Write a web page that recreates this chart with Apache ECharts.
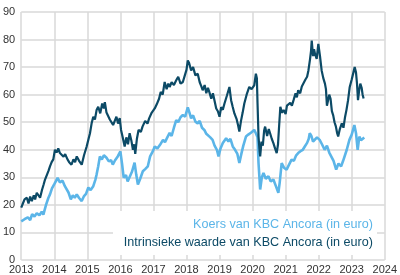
<!DOCTYPE html>
<html><head><meta charset="utf-8">
<script src="https://cdn.jsdelivr.net/npm/echarts@6/dist/echarts.min.js"></script>
<style>html,body{margin:0;padding:0;background:#fff}#c{width:400px;height:275px}</style>
</head><body><div id="c"></div>
<script>
var seriesNames = ['Koers van KBC Ancora (in euro)', 'Intrinsieke waarde van KBC Ancora (in euro)'];
var xTicks = [2013,2014,2015,2016,2017,2018,2019,2020,2021,2022,2023,2024];
var yTicks = [0,10,20,30,40,50,60,70,80,90];

var koers = [
[2013.00,14.0],[2013.05,13.5],[2013.10,14.8],[2013.15,14.2],[2013.20,15.5],[2013.27,14.5],[2013.33,16.6],[2013.40,15.8],
[2013.47,17.0],[2013.55,16.2],[2013.62,17.5],[2013.67,16.5],[2013.75,20.0],[2013.82,22.5],[2013.87,23.8],[2013.93,26.0],
[2014.00,27.5],[2014.05,28.6],[2014.10,29.8],[2014.17,28.2],[2014.25,28.8],[2014.32,26.8],[2014.37,26.3],[2014.43,24.5],
[2014.50,22.0],[2014.56,23.5],[2014.62,22.6],[2014.68,23.8],[2014.75,22.5],[2014.83,21.4],[2014.90,23.2],[2014.96,24.0],
[2015.03,26.3],[2015.10,25.4],[2015.18,26.8],[2015.24,29.0],[2015.28,31.0],[2015.33,34.0],[2015.38,37.6],[2015.44,36.5],
[2015.50,38.0],[2015.58,37.1],[2015.65,35.8],[2015.72,36.2],[2015.77,34.6],[2015.84,36.2],[2015.92,37.6],[2016.00,39.4],
[2016.05,35.0],[2016.10,29.9],[2016.17,30.8],[2016.22,28.5],[2016.28,29.2],[2016.35,32.0],[2016.43,35.3],[2016.48,31.0],
[2016.53,27.4],[2016.60,29.5],[2016.68,32.2],[2016.75,33.0],[2016.83,34.0],[2016.90,37.6],[2016.98,39.4],[2017.04,41.2],
[2017.12,40.5],[2017.20,41.8],[2017.29,43.6],[2017.35,42.8],[2017.42,44.5],[2017.49,46.1],[2017.55,45.0],[2017.62,48.0],
[2017.69,50.8],[2017.75,50.0],[2017.82,51.8],[2017.89,52.6],[2017.96,52.0],[2018.04,55.4],[2018.09,53.5],[2018.14,51.4],
[2018.20,52.5],[2018.27,50.2],[2018.34,49.6],[2018.40,50.5],[2018.47,48.0],[2018.54,47.2],[2018.60,45.8],[2018.66,46.5],
[2018.72,44.5],[2018.79,43.6],[2018.85,41.5],[2018.92,40.0],[2018.97,37.6],[2019.03,40.5],[2019.10,42.5],[2019.20,44.2],
[2019.27,43.0],[2019.33,44.0],[2019.40,41.2],[2019.47,40.0],[2019.54,38.5],[2019.60,35.2],[2019.66,38.5],[2019.72,41.5],
[2019.80,44.8],[2019.87,45.5],[2019.95,46.2],[2020.05,47.2],[2020.10,46.0],[2020.15,44.5],[2020.18,35.2],[2020.23,25.6],
[2020.28,30.0],[2020.33,31.6],[2020.40,29.5],[2020.48,30.4],[2020.55,28.5],[2020.63,29.2],[2020.70,27.0],[2020.78,24.4],
[2020.82,28.0],[2020.88,35.2],[2020.95,33.5],[2021.03,32.8],[2021.10,34.5],[2021.18,36.4],[2021.25,36.0],[2021.32,38.0],
[2021.38,38.8],[2021.45,39.5],[2021.52,40.0],[2021.58,41.2],[2021.65,42.5],[2021.70,44.0],[2021.73,46.0],[2021.78,45.0],
[2021.83,43.0],[2021.88,42.4],[2021.95,44.5],[2022.03,43.6],[2022.10,42.0],[2022.18,40.0],[2022.25,41.5],[2022.32,39.0],
[2022.38,38.8],[2022.45,36.0],[2022.53,32.8],[2022.60,35.0],[2022.68,34.0],[2022.74,36.0],[2022.78,36.4],[2022.85,40.0],
[2022.93,43.6],[2023.00,45.5],[2023.08,49.0],[2023.13,46.0],[2023.18,40.0],[2023.23,44.8],[2023.28,43.5],[2023.33,44.2],
[2023.38,44.5]
];

var intrinsiek = [
[2013.00,19.0],[2013.05,20.5],[2013.10,22.0],[2013.17,22.6],[2013.22,20.5],[2013.27,23.0],[2013.32,21.4],[2013.38,23.5],
[2013.42,22.0],[2013.47,24.4],[2013.52,23.5],[2013.57,22.6],[2013.63,25.5],[2013.68,27.5],[2013.72,29.2],[2013.78,31.0],
[2013.83,32.5],[2013.87,34.0],[2013.92,35.5],[2013.97,36.5],[2014.02,40.0],[2014.07,39.0],[2014.12,40.5],[2014.17,38.8],
[2014.22,39.5],[2014.28,37.5],[2014.33,38.4],[2014.40,36.5],[2014.45,35.5],[2014.52,34.6],[2014.58,36.5],[2014.63,35.5],
[2014.68,37.6],[2014.75,36.0],[2014.83,34.6],[2014.90,38.0],[2014.98,41.2],[2015.03,40.5],[2015.08,46.0],[2015.13,49.6],
[2015.18,52.0],[2015.23,51.0],[2015.28,54.4],[2015.33,55.6],[2015.39,53.2],[2015.45,56.8],[2015.50,55.0],[2015.53,57.3],
[2015.58,53.5],[2015.63,54.0],[2015.68,51.0],[2015.73,50.5],[2015.78,49.0],[2015.83,50.5],[2015.88,52.0],[2015.93,49.5],
[2015.98,51.5],[2016.02,47.2],[2016.08,44.0],[2016.13,41.2],[2016.18,44.5],[2016.23,42.0],[2016.28,46.0],[2016.33,43.5],
[2016.38,40.0],[2016.42,42.0],[2016.45,38.5],[2016.50,44.0],[2016.55,47.2],[2016.62,46.5],[2016.67,48.4],[2016.75,50.5],
[2016.82,49.5],[2016.87,51.4],[2016.95,53.5],[2017.04,55.0],[2017.10,56.5],[2017.17,58.5],[2017.22,61.0],[2017.28,60.0],
[2017.34,64.6],[2017.40,62.0],[2017.45,64.0],[2017.49,62.8],[2017.55,64.5],[2017.62,63.5],[2017.69,65.2],[2017.75,66.5],
[2017.82,64.0],[2017.89,64.6],[2017.95,67.0],[2018.00,69.0],[2018.04,72.4],[2018.08,71.5],[2018.14,68.8],[2018.20,70.0],
[2018.27,67.0],[2018.34,67.6],[2018.40,64.5],[2018.45,63.0],[2018.49,61.6],[2018.55,63.5],[2018.60,60.5],[2018.65,62.5],
[2018.69,61.0],[2018.75,58.5],[2018.80,60.5],[2018.84,59.8],[2018.90,55.0],[2018.95,54.0],[2019.00,52.0],[2019.05,55.5],
[2019.10,54.5],[2019.15,56.8],[2019.22,59.5],[2019.30,62.8],[2019.35,58.0],[2019.40,55.5],[2019.45,53.2],[2019.52,51.0],
[2019.56,49.0],[2019.60,46.6],[2019.65,50.5],[2019.70,53.5],[2019.75,56.8],[2019.82,60.0],[2019.90,62.8],[2019.97,62.0],
[2020.05,63.4],[2020.10,67.6],[2020.13,66.0],[2020.15,56.8],[2020.18,44.8],[2020.21,40.0],[2020.23,37.6],[2020.27,43.0],
[2020.31,41.5],[2020.35,47.0],[2020.38,48.4],[2020.44,45.0],[2020.49,47.5],[2020.53,46.0],[2020.58,44.0],[2020.63,42.4],
[2020.68,40.5],[2020.73,38.8],[2020.77,42.0],[2020.80,48.0],[2020.84,55.6],[2020.89,53.5],[2020.94,54.4],[2021.00,53.0],
[2021.04,56.0],[2021.08,55.6],[2021.14,57.0],[2021.19,56.0],[2021.24,58.0],[2021.30,60.5],[2021.34,59.0],[2021.38,61.6],
[2021.44,60.5],[2021.49,63.0],[2021.54,62.8],[2021.60,65.5],[2021.65,66.5],[2021.69,68.8],[2021.74,73.0],[2021.77,76.0],
[2021.79,79.6],[2021.83,74.0],[2021.86,76.5],[2021.89,74.8],[2021.94,73.0],[2021.99,78.4],[2022.04,74.0],[2022.09,68.8],
[2022.14,66.0],[2022.19,64.0],[2022.22,62.0],[2022.25,56.0],[2022.29,55.6],[2022.32,60.0],[2022.36,58.5],[2022.40,54.0],
[2022.44,52.5],[2022.48,50.0],[2022.52,48.5],[2022.56,46.0],[2022.59,44.8],[2022.64,47.5],[2022.70,49.6],[2022.75,48.0],
[2022.80,52.0],[2022.84,54.4],[2022.89,58.0],[2022.94,62.8],[2023.00,65.5],[2023.05,68.0],[2023.09,70.0],[2023.13,68.0],
[2023.16,64.0],[2023.19,58.0],[2023.23,62.0],[2023.26,64.0],[2023.30,62.5],[2023.33,60.0],[2023.36,58.6]
];

var lightColor = '#5bb5e8';
var darkColor = '#0c4a66';
var gridColor = '#d9d9d9';
var font = 'Liberation Sans, Arial, sans-serif';

var chart = echarts.init(document.getElementById('c'), null, {renderer: 'canvas'});
chart.setOption({
  animation: false,
  backgroundColor: '#fff',
  grid: {left: 21, right: 15, top: 12, bottom: 14, containLabel: false},
  xAxis: {
    type: 'value', min: xTicks[0], max: xTicks[xTicks.length-1], interval: 1,
    axisLine: {show: false}, axisTick: {show: false},
    axisLabel: {color: '#333', fontSize: 11, fontFamily: font, margin: 4, formatter: function(v){return String(v);}},
    splitLine: {show: true, lineStyle: {color: gridColor, width: 1.5}}
  },
  yAxis: {
    type: 'value', min: yTicks[0], max: yTicks[yTicks.length-1], interval: 10,
    axisLine: {show: false}, axisTick: {show: false},
    axisLabel: {color: '#333', fontSize: 11, fontFamily: font, margin: 6},
    splitLine: {show: true, lineStyle: {color: gridColor, width: 1.5}}
  },
  graphic: [{
    type: 'rect', z: 10, shape: {x: 113, y: 211, width: 264, height: 44},
    style: {fill: '#fff'}
  }],
  legend: {
    z: 20, orient: 'vertical', right: 17, top: 212, align: 'right',
    icon: 'none', itemWidth: 0, itemHeight: 15, itemGap: 4, selectedMode: false,
    textStyle: {fontSize: 12.6, fontFamily: font},
    data: [
      {name: seriesNames[0], textStyle: {color: lightColor}},
      {name: seriesNames[1], textStyle: {color: darkColor}}
    ]
  },
  series: [
    {name: seriesNames[0], type: 'line', data: koers, showSymbol: false, symbol: 'none',
     lineStyle: {color: lightColor, width: 2.6}, itemStyle: {color: lightColor}, z: 3},
    {name: seriesNames[1], type: 'line', data: intrinsiek, showSymbol: false, symbol: 'none',
     lineStyle: {color: darkColor, width: 2.2}, itemStyle: {color: darkColor}, z: 4}
  ]
});
</script></body></html>
